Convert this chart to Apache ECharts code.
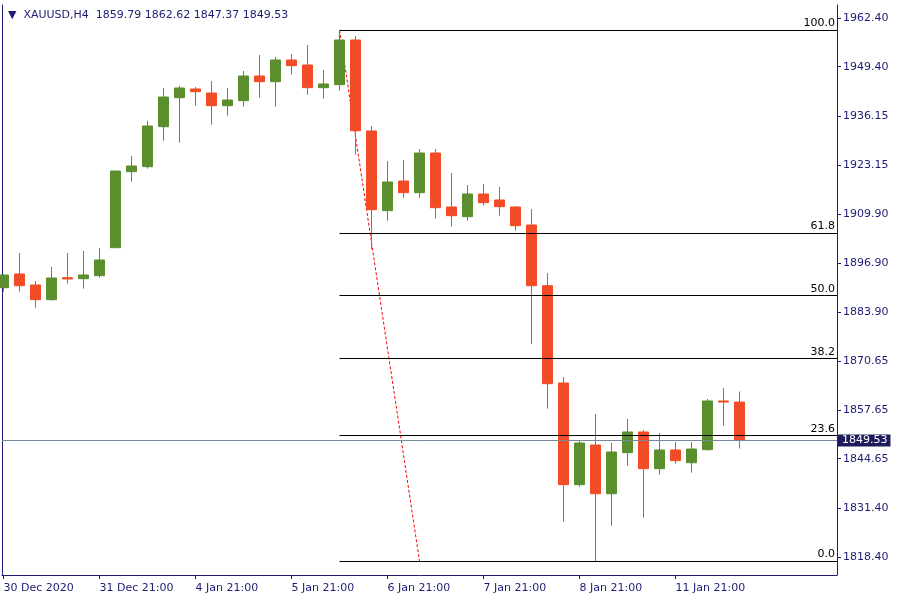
<!DOCTYPE html>
<html><head><meta charset="utf-8">
<script src="https://cdn.jsdelivr.net/npm/echarts@6/dist/echarts.min.js"></script>
<style>html,body{margin:0;padding:0;background:#fff}#c{width:900px;height:600px}</style>
</head><body><div id="c"></div>
<script>
const symbolName = 'XAUUSD,H4';
// H4 candles, index 0 = 30 Dec 2020 21:00
const opens  = [1890.35,1894.01,1891.07,1887.14,1893.02,1892.75,1893.55,1901.03,1921.34,1922.67,
                1933.36,1941.11,1943.43,1942.36,1938.97,1940.31,1946.90,1945.38,1951.18,1949.84,
                1943.78,1944.58,1956.52,1932.21,1910.92,1918.85,1915.73,1926.33,1911.91,1909.32,
                1915.38,1913.78,1911.91,1907.10,1890.88,1864.89,1837.72,1848.32,1835.31,1846.27,
                1851.80,1841.99,1846.99,1843.59,1847.07,1860.08,1859.79];
const highs  = [1894.00,1899.62,1892.14,1895.88,1899.62,1900.15,1900.95,1921.52,1925.53,1934.88,
                1943.70,1944.23,1943.97,1945.57,1943.70,1948.24,1952.52,1951.98,1952.78,1955.19,
                1948.51,1959.19,1957.59,1933.55,1924.20,1924.46,1927.40,1927.40,1920.99,1917.78,
                1918.05,1917.25,1912.17,1911.37,1894.27,1866.49,1849.47,1856.60,1848.86,1855.27,
                1852.33,1851.53,1849.12,1849.12,1860.61,1863.55,1862.62];
const lows   = [1889.28,1889.28,1885.00,1886.87,1891.42,1890.08,1893.02,1901.03,1918.67,1922.14,
                1929.62,1929.09,1938.97,1933.89,1936.30,1938.70,1941.11,1938.70,1947.25,1941.91,
                1940.84,1942.98,1925.88,1900.61,1908.25,1914.39,1914.39,1908.78,1906.64,1908.25,
                1912.25,1909.58,1905.58,1875.31,1858.02,1827.83,1837.18,1817.33,1826.76,1842.79,
                1828.90,1840.39,1843.33,1840.92,1846.80,1853.48,1847.37];
const closes = [1893.74,1890.88,1887.14,1892.94,1892.67,1893.74,1897.75,1921.52,1922.86,1933.55,
                1941.29,1943.70,1942.71,1938.97,1940.49,1946.90,1945.38,1951.18,1949.66,1943.78,
                1944.77,1956.52,1932.29,1911.19,1918.59,1915.73,1926.33,1911.72,1909.58,1915.38,
                1913.06,1911.99,1906.91,1890.88,1864.70,1837.72,1848.86,1835.31,1846.45,1851.80,
                1841.99,1846.99,1844.13,1847.25,1860.08,1859.79,1849.53];

const timeTickIndex  = [0, 6, 12, 18, 24, 30, 36, 42];
const timeTickLabels = ['30 Dec 2020','31 Dec 21:00','4 Jan 21:00','5 Jan 21:00','6 Jan 21:00','7 Jan 21:00','8 Jan 21:00','11 Jan 21:00'];
const priceTicks = [1818.40,1831.40,1844.65,1857.65,1870.65,1883.90,1896.90,1909.90,1923.15,1936.15,1949.40,1962.40];

const fibNames  = ['100.0','61.8','50.0','38.2','23.6','0.0'];
const fibPrices = [1959.19,1905.00,1888.26,1871.52,1850.81,1817.33];
const fibFromIndex = 21, fibToIndex = 26;
const bidPrice = 1849.53;

const xMin = -0.09375, xMax = 52.09375;
const yMin = 1813.59, yMax = 1965.87;

const navy = '#1c1c74';
const bull = '#5b8f2e';
const bear = '#f24c27';
const font = 'DejaVu Sans';

const candleData = opens.map((o, i) => [i, o, closes[i], lows[i], highs[i]]);
const last = opens.length - 1;

const fibLines = fibPrices.map((p, k) => [
  { coord: [fibFromIndex, p],
    lineStyle: { color: '#000', width: 1, type: 'solid' },
    label: { show: true, position: 'insideEndTop', formatter: fibNames[k], color: '#000',
             fontFamily: font, fontSize: 11, distance: [2, 1] } },
  { coord: [xMax, p] }
]);
const bidLine = [
  { coord: [xMin, bidPrice],
    lineStyle: { color: '#778899', width: 1, type: 'solid' },
    label: { show: true, position: 'end', distance: 1, formatter: bidPrice.toFixed(2),
             color: '#fff', backgroundColor: '#1c1c5c', padding: [1, 3, 0, 4],
             fontFamily: font, fontSize: 11 } },
  { coord: [xMax, bidPrice] }
];

const chart = echarts.init(document.getElementById('c'), null, { renderer: 'canvas' });
chart.setOption({
  animation: false,
  backgroundColor: '#ffffff',
  textStyle: { fontFamily: font, fontSize: 11 },
  title: {
    left: 3, top: 5,
    text: '{t|▼}  ' + symbolName + '  ' +
          [opens[last], highs[last], lows[last], closes[last]].map(v => v.toFixed(2)).join(' '),
    textStyle: { fontFamily: font, fontSize: 11, fontWeight: 'normal', color: navy,
                 rich: { t: { fontSize: 11, color: navy, fontFamily: font } } }
  },
  grid: { left: 2, right: 63, top: 5, bottom: 25 },
  xAxis: {
    type: 'value', min: xMin, max: xMax,
    axisLine: { show: true, onZero: false, lineStyle: { color: navy, width: 1 } },
    splitLine: { show: false },
    axisTick: { show: true, customValues: timeTickIndex, length: 4, lineStyle: { color: navy } },
    axisLabel: { customValues: timeTickIndex, align: 'left', color: navy, fontFamily: font, fontSize: 11, margin: 8,
                 formatter: v => timeTickLabels[timeTickIndex.indexOf(Math.round(v))] || '' }
  },
  yAxis: [{
    type: 'value', position: 'right', min: yMin, max: yMax,
    axisLine: { show: true, onZero: false, lineStyle: { color: navy, width: 1 } },
    splitLine: { show: false },
    axisTick: { show: true, customValues: priceTicks, length: 4, lineStyle: { color: navy } },
    axisLabel: { customValues: priceTicks, color: navy, fontFamily: font, fontSize: 11, margin: 6,
                 formatter: v => Number(v).toFixed(2) }
  }, {
    type: 'value', position: 'left', min: yMin, max: yMax,
    axisLine: { show: true, onZero: false, lineStyle: { color: navy, width: 1 } },
    splitLine: { show: false }, axisTick: { show: false }, axisLabel: { show: false }
  }],
  series: [{
    type: 'line', name: 'fib', z: 1, silent: true, symbol: 'none',
    data: [[fibFromIndex, fibPrices[0]], [fibToIndex, fibPrices[fibPrices.length - 1]]],
    lineStyle: { color: '#ff0000', width: 1, type: [3, 2] },
    markLine: { silent: true, symbol: ['none', 'none'], animation: false,
                data: fibLines.concat([bidLine]) }
  }, {
    type: 'candlestick', name: symbolName, z: 3, clip: true,
    data: candleData,
    encode: { x: 0, y: [1, 2, 3, 4] },
    barWidth: 10,
    itemStyle: { color: bull, color0: bear, borderColor: bull, borderColor0: bear, borderWidth: 1 }
  }]
});
</script></body></html>
